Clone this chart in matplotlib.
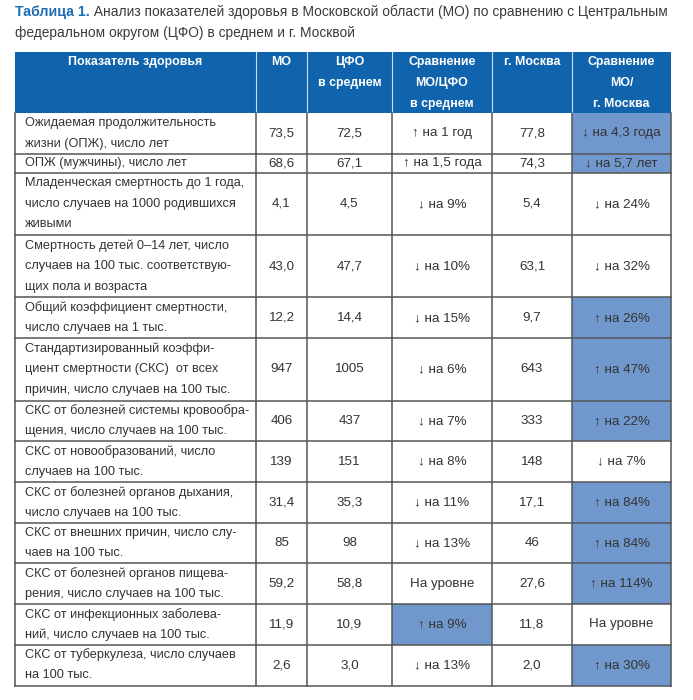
import matplotlib.pyplot as plt
from matplotlib.patches import Rectangle

plt.rcParams['font.family'] = ['Liberation Sans', 'DejaVu Sans']

title_bold = "Таблица 1."
title_rest = " Анализ показателей здоровья в Московской области (МО) по сравнению с Центральным"
title_line2 = "федеральном округом (ЦФО) в среднем и г. Москвой"

headers = ["Показатель здоровья", "МО", "ЦФО\nв среднем", "Сравнение\nМО/ЦФО\nв среднем",
           "г. Москва", "Сравнение\nМО/\nг. Москва"]

labels = [
    "Ожидаемая продолжительность\nжизни (ОПЖ), число лет",
    "ОПЖ (мужчины), число лет",
    "Младенческая смертность до 1 года,\nчисло случаев на 1000 родившихся\nживыми",
    "Смертность детей 0–14 лет, число\nслучаев на 100 тыс. соответствую-\nщих пола и возраста",
    "Общий коэффициент смертности,\nчисло случаев на 1 тыс.",
    "Стандартизированный коэффи-\nциент смертности (СКС)  от всех\nпричин, число случаев на 100 тыс.",
    "СКС от болезней системы кровообра-\nщения, число случаев на 100 тыс.",
    "СКС от новообразований, число\nслучаев на 100 тыс.",
    "СКС от болезней органов дыхания,\nчисло случаев на 100 тыс.",
    "СКС от внешних причин, число слу-\nчаев на 100 тыс.",
    "СКС от болезней органов пищева-\nрения, число случаев на 100 тыс.",
    "СКС от инфекционных заболева-\nний, число случаев на 100 тыс.",
    "СКС от туберкулеза, число случаев\nна 100 тыс.",
]
mo = ["73,5", "68,6", "4,1", "43,0", "12,2", "947", "406", "139", "31,4", "85", "59,2", "11,9", "2,6"]
cfo = ["72,5", "67,1", "4,5", "47,7", "14,4", "1005", "437", "151", "35,3", "98", "58,8", "10,9", "3,0"]
cmp_cfo = ["↑ на 1 год", "↑ на 1,5 года", "↓ на 9%", "↓ на 10%", "↓ на 15%", "↓ на 6%", "↓ на 7%",
           "↓ на 8%", "↓ на 11%", "↓ на 13%", "На уровне", "↑ на 9%", "↓ на 13%"]
msk = ["77,8", "74,3", "5,4", "63,1", "9,7", "643", "333", "148", "17,1", "46", "27,6", "11,8", "2,0"]
cmp_msk = ["↓ на 4,3 года", "↓ на 5,7 лет", "↓ на 24%", "↓ на 32%", "↑ на 26%", "↑ на 47%", "↑ на 22%",
           "↓ на 7%", "↑ на 84%", "↑ на 84%", "↑ на 114%", "На уровне", "↑ на 30%"]
# rows where the comparison cell is shaded
hl_cfo = [11]
hl_msk = [0, 1, 4, 5, 6, 8, 9, 10, 12]

# layout (pixels)
col_x = [15, 256, 307, 392, 492, 572, 671]
top = 52
head_h = 61
line_h = 21.7
blue = '#1064ad'
shade = '#7198cd'
grid = '#555555'
txt = '#333333'
fs = 9.2

fig = plt.figure(figsize=(6.93, 7.0), dpi=100)
ax = fig.add_axes([0, 0, 1, 1])
ax.set_xlim(0, 693)
ax.set_ylim(700, 0)
ax.axis('off')

# title
t1 = ax.text(15, 12, title_bold, fontsize=10.2, fontweight='bold', color='#1f6db3', va='center')
fig.canvas.draw()
bb = t1.get_window_extent(fig.canvas.get_renderer())
x_end = ax.transData.inverted().transform((bb.x1, 0))[0]
ax.text(x_end, 12, title_rest, fontsize=9.9, color='#3a3a3a', va='center')
ax.text(15, 33, title_line2, fontsize=9.9, color='#3a3a3a', va='center')

# header
ax.add_patch(Rectangle((col_x[0], top), col_x[-1] - col_x[0], head_h, color=blue, lw=0))
for j, h in enumerate(headers):
    cx = (col_x[j] + col_x[j + 1]) / 2
    for k, ln in enumerate(h.split('\n')):
        ax.text(cx, top + 10 + k * 21, ln, fontsize=8.9, fontweight='bold', color='white',
                ha='center', va='center')
    if j > 0:
        ax.plot([col_x[j], col_x[j]], [top, top + head_h], color='#cfe0f0', lw=0.8)

# body
y = top + head_h
for i in range(len(labels)):
    n = labels[i].count('\n') + 1
    h = line_h * n - 2.7
    if i in hl_cfo:
        ax.add_patch(Rectangle((col_x[3], y), col_x[4] - col_x[3], h, color=shade, lw=0))
    if i in hl_msk:
        ax.add_patch(Rectangle((col_x[5], y), col_x[6] - col_x[5], h, color=shade, lw=0))
    mid = y + h / 2
    for k, ln in enumerate(labels[i].split('\n')):
        ly = mid + (k - (n - 1) / 2) * 20.5
        ax.text(col_x[0] + 10, ly, ln, fontsize=fs, color=txt, ha='left', va='center')
    vals = [mo[i], cfo[i], cmp_cfo[i], msk[i], cmp_msk[i]]
    for j, v in enumerate(vals):
        cx = (col_x[j + 1] + col_x[j + 2]) / 2
        ax.text(cx, mid, v, fontsize=fs + 0.4, color=txt, ha='center', va='center')
    y_next = y + h
    ax.plot([col_x[0], col_x[-1]], [y_next, y_next], color=grid, lw=1.1)
    y = y_next

for xc in col_x:
    ax.plot([xc, xc], [top + head_h, y], color=grid, lw=1.1)

fig.savefig('out.png', dpi=100)
